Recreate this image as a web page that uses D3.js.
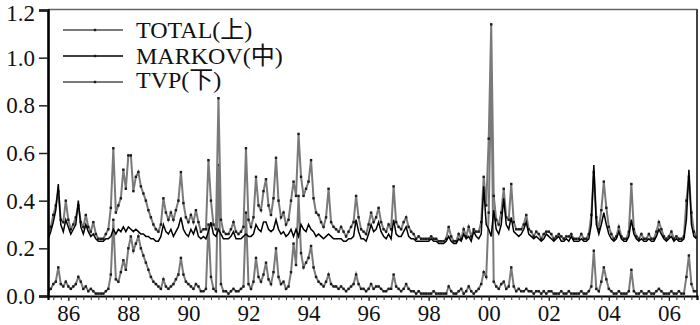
<!DOCTYPE html>
<html>
<head>
<meta charset="utf-8">
<script src="https://cdn.jsdelivr.net/npm/d3@7/dist/d3.min.js"></script>
<style>
  html, body { margin: 0; padding: 0; background: #fff; }
  svg { display: block; }
  text { font-family: "Liberation Serif", "Times New Roman", "Noto Sans CJK SC", serif; fill: #111; }
</style>
</head>
<body>
<svg id="chart" width="700" height="325"></svg>
<script>
// Monthly observations, May 1985 – Dec 2006
const START_YEAR = 1985, START_MONTH = 5;

const TOTAL = [
  /*1985*/ 0.26, 0.29, 0.34, 0.38, 0.44, 0.32, 0.31, 0.40,
  /*1986*/ 0.32, 0.28, 0.30, 0.33, 0.38, 0.31, 0.29, 0.34, 0.29, 0.27, 0.31, 0.26,
  /*1987*/ 0.24, 0.24, 0.24, 0.26, 0.28, 0.37, 0.62, 0.35, 0.38, 0.41, 0.53, 0.45,
  /*1988*/ 0.59, 0.59, 0.44, 0.50, 0.52, 0.46, 0.43, 0.40, 0.36, 0.33, 0.30, 0.28,
  /*1989*/ 0.27, 0.30, 0.41, 0.35, 0.32, 0.35, 0.32, 0.36, 0.40, 0.52, 0.39, 0.33,
  /*1990*/ 0.31, 0.34, 0.31, 0.36, 0.31, 0.27, 0.28, 0.28, 0.57, 0.40, 0.30, 0.28,
  /*1991*/ 0.83, 0.32, 0.27, 0.26, 0.26, 0.28, 0.31, 0.27, 0.26, 0.27, 0.29, 0.62,
  /*1992*/ 0.32, 0.29, 0.33, 0.50, 0.38, 0.36, 0.44, 0.49, 0.38, 0.34, 0.41, 0.58,
  /*1993*/ 0.40, 0.33, 0.35, 0.30, 0.32, 0.40, 0.48, 0.42, 0.68, 0.50, 0.42, 0.45,
  /*1994*/ 0.48, 0.57, 0.41, 0.35, 0.34, 0.31, 0.29, 0.33, 0.45, 0.31, 0.29, 0.28,
  /*1995*/ 0.27, 0.29, 0.27, 0.25, 0.27, 0.29, 0.31, 0.42, 0.33, 0.28, 0.27, 0.26,
  /*1996*/ 0.30, 0.35, 0.31, 0.33, 0.37, 0.31, 0.28, 0.27, 0.30, 0.28, 0.46, 0.31,
  /*1997*/ 0.29, 0.28, 0.31, 0.33, 0.29, 0.27, 0.26, 0.24, 0.25, 0.24, 0.24, 0.24,
  /*1998*/ 0.24, 0.25, 0.24, 0.24, 0.23, 0.23, 0.23, 0.24, 0.29, 0.25, 0.23, 0.23,
  /*1999*/ 0.26, 0.24, 0.28, 0.25, 0.29, 0.25, 0.28, 0.27, 0.27, 0.31, 0.50, 0.38,
  /*2000*/ 0.66, 1.14, 0.42, 0.32, 0.30, 0.35, 0.45, 0.33, 0.32, 0.47, 0.31, 0.28,
  /*2001*/ 0.28, 0.28, 0.30, 0.34, 0.28, 0.27, 0.25, 0.27, 0.26, 0.24, 0.26, 0.27,
  /*2002*/ 0.27, 0.26, 0.24, 0.25, 0.26, 0.25, 0.24, 0.25, 0.25, 0.26, 0.24, 0.24,
  /*2003*/ 0.24, 0.26, 0.24, 0.24, 0.26, 0.34, 0.52, 0.33, 0.28, 0.36, 0.48, 0.37,
  /*2004*/ 0.29, 0.26, 0.24, 0.25, 0.29, 0.25, 0.24, 0.24, 0.27, 0.47, 0.28, 0.25,
  /*2005*/ 0.24, 0.26, 0.24, 0.24, 0.26, 0.24, 0.24, 0.27, 0.31, 0.28, 0.25, 0.24,
  /*2006*/ 0.25, 0.27, 0.24, 0.25, 0.24, 0.24, 0.25, 0.40, 0.50, 0.35, 0.27, 0.25
];

const MARKOV = [
  /*1985*/ 0.24, 0.27, 0.31, 0.36, 0.47, 0.30, 0.27, 0.32,
  /*1986*/ 0.29, 0.26, 0.28, 0.30, 0.40, 0.29, 0.26, 0.30, 0.27, 0.25, 0.26, 0.24,
  /*1987*/ 0.23, 0.23, 0.23, 0.24, 0.24, 0.25, 0.28, 0.26, 0.28, 0.27, 0.29, 0.27,
  /*1988*/ 0.29, 0.28, 0.27, 0.28, 0.27, 0.26, 0.26, 0.25, 0.25, 0.24, 0.24, 0.23,
  /*1989*/ 0.23, 0.25, 0.30, 0.27, 0.26, 0.28, 0.25, 0.27, 0.29, 0.33, 0.28, 0.26,
  /*1990*/ 0.25, 0.28, 0.26, 0.29, 0.25, 0.24, 0.25, 0.24, 0.27, 0.31, 0.26, 0.25,
  /*1991*/ 0.28, 0.26, 0.24, 0.24, 0.24, 0.25, 0.27, 0.24, 0.24, 0.24, 0.25, 0.26,
  /*1992*/ 0.25, 0.25, 0.26, 0.30, 0.28, 0.27, 0.31, 0.31, 0.28, 0.27, 0.28, 0.32,
  /*1993*/ 0.28, 0.26, 0.27, 0.25, 0.26, 0.28, 0.25, 0.28, 0.25, 0.30, 0.28, 0.27,
  /*1994*/ 0.30, 0.28, 0.27, 0.25, 0.26, 0.25, 0.24, 0.25, 0.26, 0.25, 0.24, 0.24,
  /*1995*/ 0.24, 0.24, 0.23, 0.23, 0.24, 0.24, 0.25, 0.32, 0.27, 0.24, 0.24, 0.23,
  /*1996*/ 0.26, 0.30, 0.27, 0.28, 0.31, 0.27, 0.25, 0.24, 0.26, 0.24, 0.32, 0.26,
  /*1997*/ 0.25, 0.25, 0.27, 0.29, 0.25, 0.24, 0.24, 0.23, 0.23, 0.23, 0.23, 0.23,
  /*1998*/ 0.23, 0.24, 0.23, 0.23, 0.22, 0.22, 0.22, 0.23, 0.25, 0.23, 0.22, 0.22,
  /*1999*/ 0.24, 0.23, 0.26, 0.24, 0.25, 0.23, 0.27, 0.25, 0.24, 0.26, 0.46, 0.30,
  /*2000*/ 0.28, 0.25, 0.36, 0.28, 0.26, 0.30, 0.41, 0.30, 0.28, 0.33, 0.27, 0.26,
  /*2001*/ 0.25, 0.26, 0.28, 0.31, 0.26, 0.25, 0.24, 0.25, 0.24, 0.23, 0.24, 0.26,
  /*2002*/ 0.25, 0.24, 0.23, 0.24, 0.25, 0.23, 0.23, 0.24, 0.23, 0.25, 0.23, 0.23,
  /*2003*/ 0.23, 0.24, 0.23, 0.23, 0.24, 0.30, 0.55, 0.30, 0.26, 0.30, 0.35, 0.30,
  /*2004*/ 0.26, 0.24, 0.23, 0.24, 0.27, 0.24, 0.23, 0.23, 0.25, 0.32, 0.26, 0.24,
  /*2005*/ 0.23, 0.24, 0.23, 0.23, 0.24, 0.23, 0.23, 0.25, 0.28, 0.26, 0.24, 0.23,
  /*2006*/ 0.24, 0.25, 0.23, 0.24, 0.23, 0.23, 0.24, 0.32, 0.53, 0.30, 0.25, 0.24
];

const TVP = [
  /*1985*/ 0.02, 0.03, 0.05, 0.06, 0.12, 0.05, 0.04, 0.06,
  /*1986*/ 0.04, 0.03, 0.04, 0.05, 0.08, 0.06, 0.03, 0.04, 0.02, 0.03, 0.02, 0.01,
  /*1987*/ 0.01, 0.01, 0.01, 0.02, 0.03, 0.09, 0.32, 0.07, 0.06, 0.10, 0.15, 0.11,
  /*1988*/ 0.20, 0.25, 0.19, 0.22, 0.25, 0.20, 0.17, 0.14, 0.11, 0.08, 0.06, 0.05,
  /*1989*/ 0.04, 0.03, 0.07, 0.04, 0.03, 0.04, 0.05, 0.07, 0.09, 0.16, 0.09, 0.06,
  /*1990*/ 0.05, 0.04, 0.03, 0.05, 0.04, 0.02, 0.02, 0.03, 0.30, 0.08, 0.03, 0.02,
  /*1991*/ 0.55, 0.05, 0.02, 0.02, 0.01, 0.02, 0.03, 0.02, 0.02, 0.03, 0.04, 0.35,
  /*1992*/ 0.05, 0.03, 0.06, 0.16, 0.08, 0.06, 0.09, 0.14, 0.07, 0.05, 0.10, 0.20,
  /*1993*/ 0.08, 0.05, 0.06, 0.03, 0.04, 0.10, 0.22, 0.13, 0.42, 0.18, 0.12, 0.14,
  /*1994*/ 0.16, 0.21, 0.12, 0.08, 0.06, 0.05, 0.04, 0.06, 0.09, 0.05, 0.04, 0.04,
  /*1995*/ 0.03, 0.04, 0.03, 0.02, 0.03, 0.04, 0.05, 0.09, 0.05, 0.03, 0.03, 0.02,
  /*1996*/ 0.03, 0.05, 0.03, 0.04, 0.04, 0.03, 0.02, 0.02, 0.03, 0.03, 0.09, 0.04,
  /*1997*/ 0.03, 0.02, 0.03, 0.05, 0.03, 0.02, 0.02, 0.01, 0.02, 0.01, 0.01, 0.01,
  /*1998*/ 0.01, 0.01, 0.02, 0.01, 0.01, 0.01, 0.01, 0.01, 0.04, 0.02, 0.01, 0.01,
  /*1999*/ 0.02, 0.03, 0.01, 0.02, 0.04, 0.02, 0.01, 0.02, 0.03, 0.05, 0.10, 0.08,
  /*2000*/ 0.35, 0.93, 0.06, 0.04, 0.03, 0.05, 0.06, 0.03, 0.04, 0.12, 0.04, 0.02,
  /*2001*/ 0.03, 0.02, 0.02, 0.03, 0.02, 0.02, 0.01, 0.02, 0.02, 0.01, 0.02, 0.01,
  /*2002*/ 0.02, 0.02, 0.01, 0.01, 0.01, 0.02, 0.01, 0.01, 0.02, 0.01, 0.01, 0.01,
  /*2003*/ 0.01, 0.02, 0.01, 0.01, 0.02, 0.04, 0.19, 0.03, 0.02, 0.06, 0.12, 0.07,
  /*2004*/ 0.03, 0.02, 0.01, 0.01, 0.02, 0.01, 0.01, 0.01, 0.02, 0.11, 0.02, 0.01,
  /*2005*/ 0.01, 0.02, 0.01, 0.01, 0.02, 0.01, 0.01, 0.02, 0.03, 0.02, 0.01, 0.01,
  /*2006*/ 0.01, 0.02, 0.01, 0.01, 0.02, 0.01, 0.01, 0.08, 0.17, 0.05, 0.02, 0.02
];

const X_TICK_YEARS  = [1986, 1988, 1990, 1992, 1994, 1996, 1998, 2000, 2002, 2004, 2006];
const X_TICK_LABELS = ["86", "88", "90", "92", "94", "96", "98", "00", "02", "04", "06"];
const Y_TICKS  = [0.0, 0.2, 0.4, 0.6, 0.8, 1.0, 1.2];
const SERIES_NAMES = ["TOTAL(上)", "MARKOV(中)", "TVP(下)"];

const svg = d3.select("#chart");
const plotLeft = 48, plotRight = 697, plotTop = 10, plotBottom = 296;

// decimal year for each observation
const t = i => START_YEAR + (START_MONTH - 1) / 12 + i / 12;

const x = d3.scaleLinear().domain([1985.324, 2006.936]).range([plotLeft, plotRight]);
const y = d3.scaleLinear().domain([0, 1.2]).range([plotBottom, plotTop]);

// frame
svg.append("line").attr("x1", plotLeft).attr("x2", plotRight)
  .attr("y1", plotTop - 0.5).attr("y2", plotTop - 0.5)
  .attr("stroke", "#666").attr("stroke-width", 1.6);
svg.append("line").attr("x1", plotRight).attr("x2", plotRight)
  .attr("y1", plotTop - 1).attr("y2", plotBottom)
  .attr("stroke", "#444").attr("stroke-width", 2);

svg.append("defs").append("clipPath").attr("id", "plot")
  .append("rect").attr("x", plotLeft).attr("y", plotTop - 1)
  .attr("width", plotRight - plotLeft).attr("height", plotBottom - plotTop + 1);

const plot = svg.append("g").attr("clip-path", "url(#plot)");

const line = d3.line().x((d, i) => x(t(i))).y(d => y(d));

function drawSeries(values, color, width, markers) {
  plot.append("path").datum(values)
    .attr("fill", "none").attr("stroke", color).attr("stroke-width", width)
    .attr("stroke-linejoin", "miter").attr("d", line);
  if (markers) {
    plot.append("g").selectAll("rect").data(values).join("rect")
      .attr("x", (d, i) => x(t(i)) - 1.2).attr("y", d => y(d) - 1.2)
      .attr("width", 2.4).attr("height", 2.4)
      .attr("fill", "#1a1a1a");
  }
}

drawSeries(TVP, "#7a7a7a", 2, true);
drawSeries(TOTAL, "#7a7a7a", 2, true);
drawSeries(MARKOV, "#000", 1.5, false);

// left axis
const yAxis = d3.axisLeft(y).tickValues(Y_TICKS).tickFormat(d3.format(".1f")).tickSize(9).tickPadding(4);
const gy = svg.append("g").attr("transform", `translate(${plotLeft},0)`).call(yAxis);
gy.select(".domain").attr("stroke", "#000").attr("stroke-width", 2.6);
gy.selectAll(".tick line").attr("stroke", "#222").attr("stroke-width", 1.5);
gy.selectAll(".tick text").attr("font-size", 23).attr("fill", "#111")
  .style("font-family", "'Liberation Serif', 'Times New Roman', serif");
// keep the topmost label inside the canvas
gy.selectAll(".tick text").filter(d => d === 1.2).attr("dy", "0.45em");

// bottom axis: quarterly minor ticks plus labelled years
const quarters = d3.range(1985.5, 2007, 0.25);
const gxMinor = svg.append("g").attr("transform", `translate(0,${plotBottom})`)
  .call(d3.axisBottom(x).tickValues(quarters).tickFormat("").tickSize(4));
gxMinor.select(".domain").attr("stroke", "#000").attr("stroke-width", 2.2);
gxMinor.selectAll(".tick line").attr("stroke", "#333").attr("stroke-width", 1);

const gx = svg.append("g").attr("transform", `translate(0,${plotBottom})`)
  .call(d3.axisBottom(x).tickValues(X_TICK_YEARS)
    .tickFormat((d, i) => X_TICK_LABELS[i]).tickSize(5).tickPadding(4));
gx.select(".domain").remove();
gx.selectAll(".tick line").attr("stroke", "#222").attr("stroke-width", 1.2);
gx.selectAll(".tick text").attr("font-size", 23).attr("fill", "#111")
  .style("font-family", "'Liberation Serif', 'Times New Roman', serif");

// legend
const legendRows = [
  { name: SERIES_NAMES[0], color: "#7a7a7a", w: 2,   ly: 30, ty: 38 },
  { name: SERIES_NAMES[1], color: "#000",    w: 1.5, ly: 56, ty: 64 },
  { name: SERIES_NAMES[2], color: "#7a7a7a", w: 2,   ly: 82, ty: 88 }
];
const lg = svg.append("g");
legendRows.forEach(r => {
  lg.append("line").attr("x1", 63).attr("x2", 123).attr("y1", r.ly).attr("y2", r.ly)
    .attr("stroke", r.color).attr("stroke-width", r.w);
  lg.append("rect").attr("x", 93.8).attr("y", r.ly - 1.2).attr("width", 2.4).attr("height", 2.4)
    .attr("fill", "#1a1a1a");
  lg.append("text").attr("x", 136).attr("y", r.ty).attr("font-size", 24).text(r.name);
});
</script>
</body>
</html>
